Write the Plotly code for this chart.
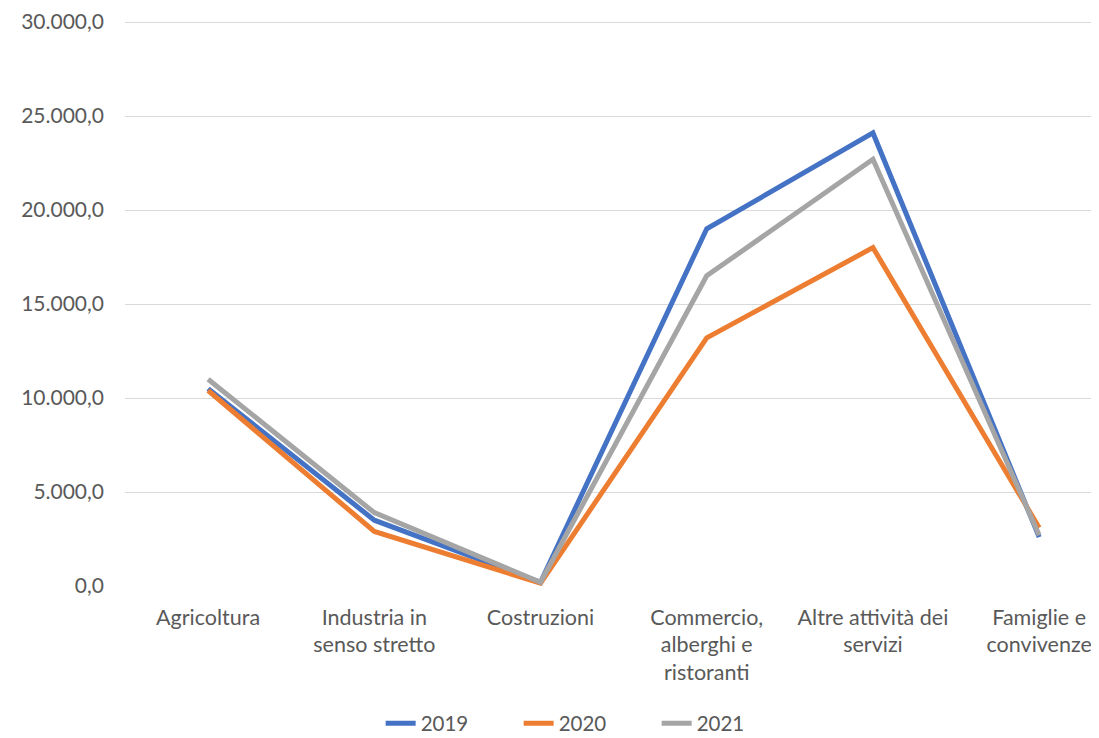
import plotly.graph_objects as go

categories = ["Agricoltura", "Industria in<br>senso stretto", "Costruzioni",
              "Commercio,<br>alberghi e<br>ristoranti", "Altre attività dei<br>servizi",
              "Famiglie e<br>convivenze"]
v2019 = [10500, 3500, 200, 19000, 24100, 2600]
v2020 = [10400, 2900, 150, 13200, 18000, 3100]
v2021 = [11000, 3900, 200, 16500, 22700, 2700]
series_names = ["2019", "2020", "2021"]
colors = ["#4472C4", "#ED7D31", "#A5A5A5"]

fig = go.Figure()
for name, vals, c in zip(series_names, [v2019, v2020, v2021], colors):
    fig.add_trace(go.Scatter(x=categories, y=vals, mode="lines", name=name,
                             line=dict(color=c, width=5)))

font = "Lato, Noto Sans, sans-serif"
fig.update_layout(
    width=1091, height=730,
    margin=dict(l=117, r=0, t=11, b=152, autoexpand=False),
    paper_bgcolor="white", plot_bgcolor="white",
    separators=",.",
    font=dict(family=font, size=21, color="#595959"),
    showlegend=True,
    legend=dict(orientation="h", x=0.475, xanchor="center", y=-0.207, yanchor="top",
                entrywidth=93, bgcolor="rgba(0,0,0,0)",
                font=dict(size=20.5, color="#595959"), traceorder="normal"),
)
fig.update_xaxes(type="category", range=[-0.5, 5.36], showgrid=False, zeroline=False,
                 showline=False, ticks="", ticklabelstandoff=16, automargin=False,
                 tickfont=dict(size=21.5, color="#595959"))
fig.update_yaxes(range=[0, 30160], dtick=5000, tickformat=",.1f",
                 showgrid=True, gridcolor="#D9D9D9", gridwidth=1.3, zeroline=False,
                 showline=False, ticks="", ticklabelstandoff=20, automargin=False,
                 tickfont=dict(size=21, color="#595959"))
fig.write_html("out.html")
